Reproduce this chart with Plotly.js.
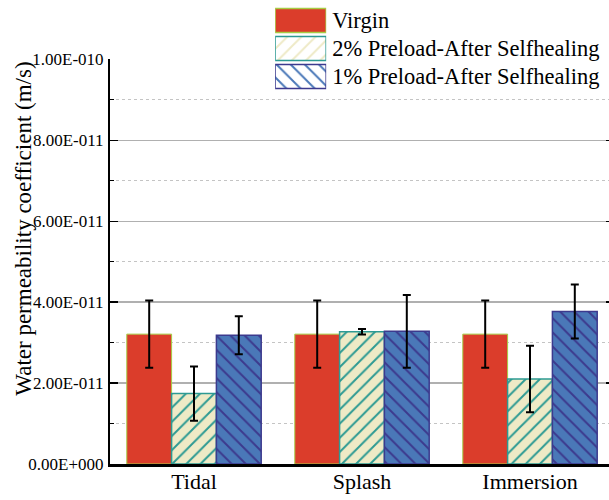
<!DOCTYPE html>
<html>
<head>
<meta charset="utf-8">
<script src="https://cdn.plot.ly/plotly-3.0.1.min.js"></script>
<style>
html,body{margin:0;padding:0;overflow:hidden;background:#fff;}
#chart{width:620px;height:500px;}
</style>
</head>
<body>
<div id="chart"></div>
<script>
// ---- data ----
var categories = ['Tidal', 'Splash', 'Immersion'];
var seriesNames = ['Virgin', '2% Preload-After Selfhealing', '1% Preload-After Selfhealing'];
var virgin = [3.21e-11, 3.21e-11, 3.21e-11];
var virginErr = [0.83e-11, 0.83e-11, 0.83e-11];
var preload2 = [1.74e-11, 3.27e-11, 2.10e-11];
var preload2Err = [0.67e-11, 0.07e-11, 0.82e-11];
var preload1 = [3.18e-11, 3.28e-11, 3.77e-11];
var preload1Err = [0.47e-11, 0.90e-11, 0.67e-11];
var yTickVals = [0, 2e-11, 4e-11, 6e-11, 8e-11, 1e-10];
var yTickText = ['0.00E+000', '2.00E-011', '4.00E-011', '6.00E-011', '8.00E-011', '1.00E-010'];
var yGridVals = [2e-11, 4e-11, 6e-11, 8e-11];
var yMinorVals = [1e-11, 3e-11, 5e-11, 7e-11, 9e-11];
var yTitle = 'Water permeability coefficient (m/s)';

// ---- styles ----
var FONT = 'Liberation Serif';
var styles = [
  {color: '#db3d2b', line: '#a6cc45', shape: '', fg: '#db3d2b', lw: 1},
  {color: '#eeeac6', line: '#2d9a93', shape: '/', fg: '#2d9a93', lw: 1.5},
  {color: '#4a78b8', line: '#3c3a8e', shape: '\\', fg: '#3c3a8e', lw: 1.5}
];
var values = [virgin, preload2, preload1];
var errs = [virginErr, preload2Err, preload1Err];

var traces = [];
for (var i = 0; i < 3; i++) {
  var s = styles[i];
  traces.push({
    type: 'bar', x: categories, y: values[i], name: seriesNames[i],
    showlegend: false,
    marker: {
      color: s.color,
      line: {color: s.line, width: s.lw},
      pattern: {shape: s.shape, bgcolor: s.color, fgcolor: s.fg, size: 10, solidity: 0.2, fillmode: 'replace'}
    },
    error_y: {type: 'data', array: errs[i], visible: true, color: '#000', thickness: 2, width: 4},
    xaxis: 'x', yaxis: 'y'
  });
}
// custom legend swatches (one bar per series, in a small subplot)
traces.push({
  type: 'bar', orientation: 'h', x: [1, 1, 1], y: seriesNames, width: 0.86,
  showlegend: false, hoverinfo: 'skip',
  marker: {
    color: styles.map(function(s){return s.color;}),
    line: {color: styles.map(function(s){return s.line;}), width: 1.5},
    pattern: {
      shape: styles.map(function(s){return s.shape;}),
      bgcolor: styles.map(function(s){return s.color;}),
      fgcolor: styles.map(function(s){return s.fg;}),
      size: 10, solidity: 0.2, fillmode: 'replace'
    }
  },
  xaxis: 'x2', yaxis: 'y2'
});
// dummy trace to activate the grid-only overlay axis
traces.push({type: 'scatter', x: [], y: [], xaxis: 'x', yaxis: 'y3', showlegend: false, hoverinfo: 'skip'});

var W = 620, H = 500;
var mL = 110, mR = 6.4, mT = 0, mB = 35.5;
var plotH = H - mT - mB, plotW = W - mL - mR;
function py(p){ return (plotH - (p - mT)) / plotH; }
function px(p){ return (p - mL) / plotW; }

var layout = {
  width: W, height: H,
  margin: {l: mL, r: mR, t: mT, b: mB, pad: 0},
  paper_bgcolor: '#fff', plot_bgcolor: '#fff',
  barmode: 'group', bargap: 0.2, bargroupgap: 0,
  showlegend: false,
  font: {family: FONT, color: '#000'},
  xaxis: {
    domain: [0, 1], range: [-0.5, 2.5], type: 'category',
    showline: true, linecolor: '#000', linewidth: 2.5,
    ticks: '', showgrid: false, zeroline: false,
    tickfont: {family: FONT, size: 22, color: '#000'},
    ticklabelstandoff: -4
  },
  yaxis: {
    domain: [0, py(59.5)], range: [0, 1e-10],
    tickmode: 'array', tickvals: yTickVals, ticktext: yTickText,
    showline: true, linecolor: '#000', linewidth: 2, mirror: 'ticks',
    ticks: 'inside', ticklen: 8, tickwidth: 1.5, tickcolor: '#000',
    showgrid: false, zeroline: false,
    tickfont: {family: FONT, size: 17, color: '#000'},
    ticklabelstandoff: 1,
    minor: {tickmode: 'array', tickvals: yMinorVals, ticks: 'inside', ticklen: 4, tickcolor: '#000', tickwidth: 1,
            showgrid: true, gridcolor: '#c4c4c4', griddash: 'dot', gridwidth: 1}
  },
  yaxis3: {
    overlaying: 'y', anchor: 'x', range: [0, 1e-10],
    tickmode: 'array', tickvals: yGridVals,
    showticklabels: false, ticks: '', showline: false, zeroline: false,
    showgrid: true, gridcolor: '#b0b0b0', gridwidth: 1.5
  },
  xaxis2: {
    domain: [px(275), px(326)], range: [0, 1], anchor: 'y2',
    showgrid: false, zeroline: false, showline: false, showticklabels: false, ticks: '', fixedrange: true
  },
  yaxis2: {
    domain: [py(90.5), py(6.5)], range: [2.5, -0.5], type: 'category', anchor: 'x2',
    side: 'right', showgrid: false, zeroline: false, showline: false, ticks: '',
    tickfont: {family: FONT, size: 22.5, color: '#000'}, ticklabelstandoff: 5, fixedrange: true
  },
  annotations: [{
    text: yTitle, textangle: -90, showarrow: false,
    xref: 'paper', yref: 'paper', x: px(24), y: py(229), xanchor: 'center', yanchor: 'middle',
    font: {family: FONT, size: 23, color: '#000'}
  }]
};

Plotly.newPlot('chart', traces, layout, {displayModeBar: false, staticPlot: true});
</script>
</body>
</html>
